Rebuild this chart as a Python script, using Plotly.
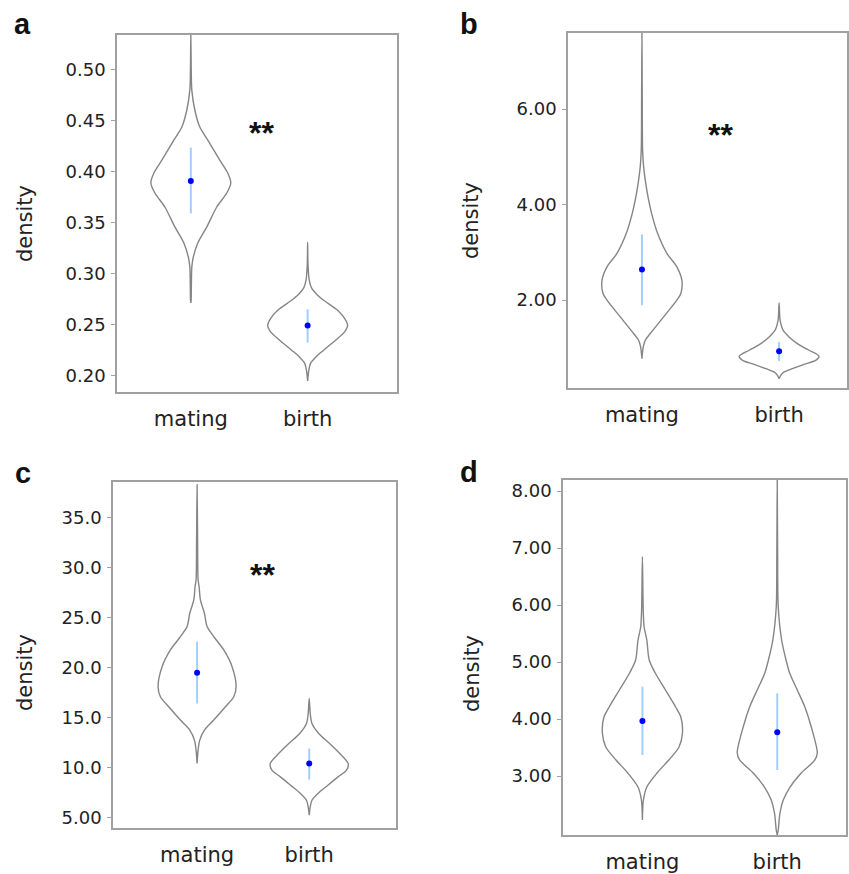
import plotly.graph_objects as go

W, H = 849, 874

categories = ["mating", "birth"]

# ---- panel a ----
a_mating_y = [0.5336, 0.4993, 0.4797, 0.4602, 0.4435, 0.4308, 0.4112, 0.3985, 0.3888, 0.3790,
              0.3653, 0.3458, 0.3301, 0.3164, 0.3067, 0.2744, 0.2715]
a_mating_d = [0, 0.01, 0.025, 0.1, 0.225, 0.425, 0.725, 0.925, 1.0, 0.9,
              0.65, 0.4, 0.175, 0.0625, 0.025, 0.008, 0]
a_birth_y = [0.3308, 0.3083, 0.2937, 0.2859, 0.2790, 0.2741, 0.2643, 0.2565, 0.2497, 0.2428,
             0.2350, 0.2252, 0.2184, 0.2125, 0.2057, 0.1950]
a_birth_d = [0, 0.01, 0.04, 0.1, 0.25, 0.4, 0.75, 0.92, 1.0, 0.92, 0.7, 0.4, 0.2, 0.075, 0.03, 0]
a_median = [0.3908, 0.2493]
a_low = [0.359, 0.2326]
a_high = [0.4234, 0.2652]
a_ticks = [0.20, 0.25, 0.30, 0.35, 0.40, 0.45, 0.50]
a_ticktext = ["0.20", "0.25", "0.30", "0.35", "0.40", "0.45", "0.50"]

# ---- panel b ----
b_mating_y = [7.594, 6.196, 5.147, 4.797, 4.378, 4.098, 3.818, 3.399, 2.979, 2.699, 2.420,
              2.140, 2.000, 1.650, 1.301, 1.161, 1.021, 0.776]
b_mating_d = [0, 0.008, 0.017, 0.042, 0.108, 0.167, 0.242, 0.392, 0.625, 0.875, 1.0,
              0.975, 0.875, 0.542, 0.208, 0.083, 0.033, 0]
b_birth_y = [1.944, 1.580, 1.371, 1.231, 1.091, 0.951, 0.825, 0.741, 0.657, 0.566, 0.497, 0.427, 0.357]
b_birth_d = [0, 0.025, 0.1, 0.25, 0.458, 0.75, 1.0, 0.917, 0.625, 0.333, 0.125, 0.042, 0]
b_median = [2.643, 0.93]
b_low = [1.895, 0.727]
b_high = [3.378, 1.126]
b_ticks = [2.0, 4.0, 6.0]
b_ticktext = ["2.00", "4.00", "6.00"]

# ---- panel c ----
c_mating_y = [38.27, 32.77, 28.77, 28.1, 26.77, 25.43, 24.1, 23.1, 21.77, 20.1, 18.1, 17.1,
              16.1, 14.77, 13.77, 12.77, 11.77, 10.43]
c_mating_d = [0, 0.013, 0.026, 0.051, 0.085, 0.188, 0.256, 0.427, 0.684, 0.897, 1.0, 0.94,
              0.726, 0.427, 0.188, 0.068, 0.026, 0]
c_birth_y = [16.93, 15.43, 14.43, 13.43, 12.43, 11.43, 10.43, 9.77, 9.1, 8.27, 7.43, 6.77, 6.1, 5.27]
c_birth_d = [0, 0.026, 0.07, 0.243, 0.522, 0.783, 1.0, 0.957, 0.739, 0.478, 0.217, 0.07, 0.026, 0]
c_median = [19.5, 10.43]
c_low = [16.43, 8.83]
c_high = [22.6, 11.93]
c_ticks = [5, 10, 15, 20, 25, 30, 35]
c_ticktext = ["5.00", "10.0", "15.0", "20.0", "25.0", "30.0", "35.0"]

# ---- panel d ----
d_mating_y = [6.847, 5.912, 5.614, 5.386, 5.035, 4.807, 4.509, 4.211, 4.035, 3.754, 3.509,
              3.281, 3.053, 2.807, 2.579, 2.228]
d_mating_d = [0, 0.02, 0.043, 0.11, 0.17, 0.32, 0.575, 0.83, 0.96, 1.0, 0.915,
              0.66, 0.365, 0.11, 0.025, 0]
d_birth_y = [8.193, 6.9, 5.965, 5.386, 5.035, 4.807, 4.509, 4.211, 3.860, 3.404, 3.281,
             3.053, 2.807, 2.579, 2.351, 2.053, 1.965]
d_birth_d = [0, 0.01, 0.025, 0.11, 0.22, 0.31, 0.5, 0.69, 0.85, 1.0, 0.94,
             0.6, 0.32, 0.15, 0.068, 0.025, 0]
d_median = [3.965, 3.766]
d_low = [3.368, 3.105]
d_high = [4.567, 4.45]
d_ticks = [3, 4, 5, 6, 7, 8]
d_ticktext = ["3.00", "4.00", "5.00", "6.00", "7.00", "8.00"]

panels = [
    dict(label="a", vy=[a_mating_y, a_birth_y], vd=[a_mating_d, a_birth_d],
         med=a_median, lo=a_low, hi=a_high, ticks=a_ticks, ticktext=a_ticktext, star=True,
         box=(117, 35, 397, 392), xr=[-0.632, 1.765], yr=[0.1843, 0.5336], hw=0.342,
         lab=(22, 24), title=(25, 224), star_xy=(0.607, 0.4377)),
    dict(label="b", vy=[b_mating_y, b_birth_y], vd=[b_mating_d, b_birth_d],
         med=b_median, lo=b_low, hi=b_high, ticks=b_ticks, ticktext=b_ticktext, star=True,
         box=(568, 33, 847, 388), xr=[-0.539, 1.495], yr=[0.161, 7.594], hw=0.291,
         lab=(469, 24), title=(471, 220), star_xy=(0.57, 5.46)),
    dict(label="c", vy=[c_mating_y, c_birth_y], vd=[c_mating_d, c_birth_d],
         med=c_median, lo=c_low, hi=c_high, ticks=c_ticks, ticktext=c_ticktext, star=True,
         box=(113, 482, 396, 828), xr=[-0.75, 1.774], yr=[4.0, 38.53], hw=0.348,
         lab=(23, 473), title=(25, 673), star_xy=(0.587, 29.27)),
    dict(label="d", vy=[d_mating_y, d_birth_y], vd=[d_mating_d, d_birth_d],
         med=d_median, lo=d_low, hi=d_high, ticks=d_ticks, ticktext=d_ticktext, star=False,
         box=(563, 480, 846, 835), xr=[-0.589, 1.51], yr=[1.965, 8.193], hw=0.297,
         lab=(469, 472), title=(472, 673), star_xy=None),
]

fig = go.Figure()
annotations = []
layout = {}

for i, p in enumerate(panels):
    n = "" if i == 0 else str(i + 1)
    xa, ya = "x" + n, "y" + n
    x0, y0, x1, y1 = p["box"]
    for k in range(2):
        ys = p["vy"][k]
        ds = p["vd"][k]
        xs_r = [k + p["hw"] * d for d in ds]
        xs_l = [k - p["hw"] * d for d in ds]
        fig.add_trace(go.Scatter(
            x=xs_r + xs_l[::-1], y=ys + ys[::-1], mode="lines",
            line=dict(color="#858585", width=1.4, shape="spline", smoothing=0.8),
            xaxis=xa, yaxis=ya, showlegend=False, hoverinfo="skip"))
        fig.add_trace(go.Scatter(
            x=[k, k], y=[p["lo"][k], p["hi"][k]], mode="lines",
            line=dict(color="#9fd0ff", width=2),
            xaxis=xa, yaxis=ya, showlegend=False))
    fig.add_trace(go.Scatter(
        x=[0, 1], y=p["med"], mode="markers",
        marker=dict(color="#0000ff", size=6, symbol="circle"),
        xaxis=xa, yaxis=ya, showlegend=False))

    layout["xaxis" + n] = dict(
        domain=[x0 / W, x1 / W], range=p["xr"], anchor=ya,
        showline=True, mirror=True, linecolor="#a0a0a0", linewidth=1.5,
        showgrid=False, zeroline=False, tickvals=[0, 1], ticktext=categories,
        ticks="", ticklabelstandoff=7,
        tickfont=dict(family="DejaVu Sans", size=21, color="#222"))
    layout["yaxis" + n] = dict(
        domain=[1 - y1 / H, 1 - y0 / H], range=p["yr"], anchor=xa,
        showline=True, mirror=True, linecolor="#a0a0a0", linewidth=1.5,
        showgrid=False, zeroline=False, tickvals=p["ticks"], ticktext=p["ticktext"],
        ticks="outside", ticklen=4, tickcolor="#a0a0a0", tickwidth=1,
        ticklabelstandoff=2,
        tickfont=dict(family="DejaVu Sans", size=18, color="#222"))

    annotations.append(dict(
        text="<b>" + p["label"] + "</b>", x=p["lab"][0] / W, y=1 - p["lab"][1] / H,
        xref="paper", yref="paper", showarrow=False, xanchor="center", yanchor="middle",
        font=dict(family="Liberation Sans", size=29, color="#111")))
    annotations.append(dict(
        text="density", x=p["title"][0] / W, y=1 - p["title"][1] / H,
        xref="paper", yref="paper", showarrow=False, textangle=-90,
        xanchor="center", yanchor="middle",
        font=dict(family="DejaVu Sans", size=21, color="#222")))
    if p["star"]:
        annotations.append(dict(
            text="<b>**</b>", x=p["star_xy"][0], y=p["star_xy"][1],
            xref=xa, yref=ya, showarrow=False, xanchor="center", yanchor="middle",
            font=dict(family="Liberation Sans", size=32, color="#111")))

fig.update_layout(
    width=W, height=H, margin=dict(l=0, r=0, t=0, b=0),
    paper_bgcolor="white", plot_bgcolor="white",
    annotations=annotations, **layout)

fig.write_html("out.html")
